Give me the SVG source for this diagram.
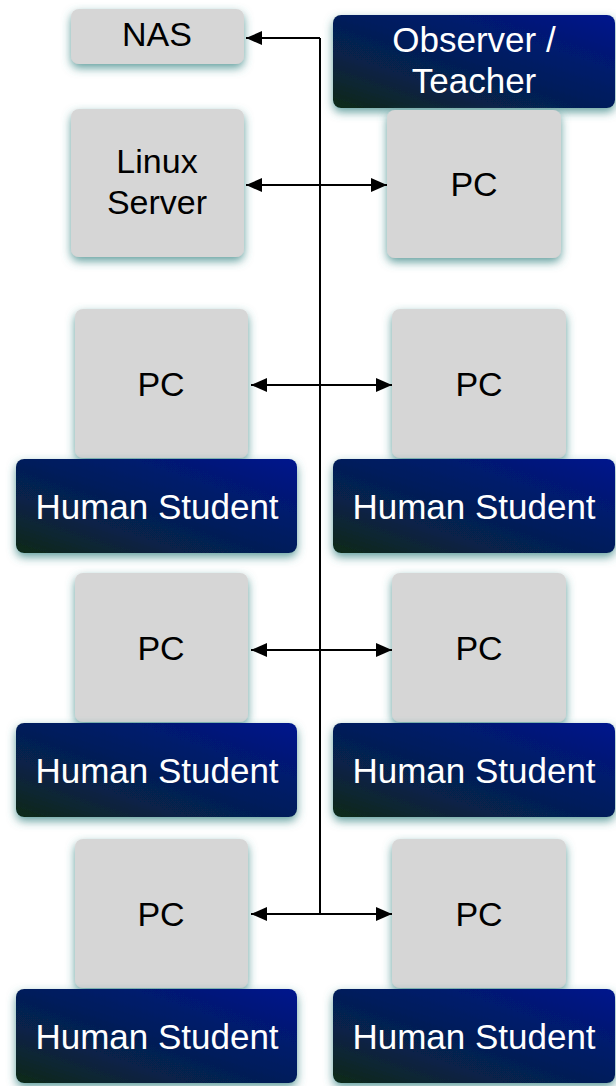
<svg xmlns="http://www.w3.org/2000/svg" width="616" height="1086" viewBox="0 0 616 1086">
  <defs>
    <linearGradient id="navy" x1="0" y1="1" x2="1" y2="0">
      <stop offset="0" stop-color="#0b2a16"/>
      <stop offset="0.3" stop-color="#072248"/>
      <stop offset="0.7" stop-color="#031a6e"/>
      <stop offset="1" stop-color="#00168e"/>
    </linearGradient>
    <filter id="glow" x="-20%" y="-20%" width="140%" height="150%">
      <feDropShadow dx="0" dy="4" stdDeviation="5" flood-color="#3a8886" flood-opacity="0.8"/>
    </filter>
    <marker id="arrow" viewBox="0 0 16 14" refX="16" refY="7" markerWidth="16" markerHeight="14" markerUnits="userSpaceOnUse" orient="auto-start-reverse">
      <path d="M0,0 L16,7 L0,14 Z" fill="#000"/>
    </marker>
  </defs>
  <style>
    .box { fill: #d6d6d6; filter: url(#glow); }
    .person { fill: url(#navy); filter: url(#glow); }
    .lbl { font-family: "Liberation Sans", Arial, sans-serif; font-size: 34px; text-anchor: middle; fill: #000; }
    .lblw { font-family: "Liberation Sans", Arial, sans-serif; font-size: 35px; text-anchor: middle; fill: #fff; }
    .wire { stroke: #000; stroke-width: 2; fill: none; }
  </style>

  <!-- left column -->
  <g id="nas">
    <rect class="box" x="71" y="9" width="173" height="55" rx="8"/>
    <text class="lbl" x="157" y="46">NAS</text>
  </g>
  <g id="linux-server">
    <rect class="box" x="71" y="109" width="173" height="148" rx="8"/>
    <text class="lbl" x="157" y="173">Linux</text>
    <text class="lbl" x="157" y="214">Server</text>
  </g>

  <!-- right column, teacher station -->
  <g id="observer-teacher">
    <rect class="person" x="333" y="15" width="282" height="93" rx="8"/>
    <text class="lblw" x="474" y="52">Observer /</text>
    <text class="lblw" x="474" y="93">Teacher</text>
  </g>
  <g id="pc-teacher">
    <rect class="box" x="387" y="110" width="174" height="148" rx="8"/>
    <text class="lbl" x="474" y="196">PC</text>
  </g>

  <!-- student row 1 -->
  <g id="pc-left-1">
    <rect class="box" x="75" y="309" width="173" height="149" rx="8"/>
    <text class="lbl" x="161" y="396">PC</text>
  </g>
  <g id="student-left-1">
    <rect class="person" x="16" y="459" width="281" height="94" rx="8"/>
    <text class="lblw" x="157" y="519">Human Student</text>
  </g>
  <g id="pc-right-1">
    <rect class="box" x="392" y="309" width="174" height="149" rx="8"/>
    <text class="lbl" x="479" y="396">PC</text>
  </g>
  <g id="student-right-1">
    <rect class="person" x="333" y="459" width="282" height="94" rx="8"/>
    <text class="lblw" x="474" y="519">Human Student</text>
  </g>

  <!-- student row 2 -->
  <g id="pc-left-2">
    <rect class="box" x="75" y="573" width="173" height="149" rx="8"/>
    <text class="lbl" x="161" y="660">PC</text>
  </g>
  <g id="student-left-2">
    <rect class="person" x="16" y="723" width="281" height="94" rx="8"/>
    <text class="lblw" x="157" y="783">Human Student</text>
  </g>
  <g id="pc-right-2">
    <rect class="box" x="392" y="573" width="174" height="149" rx="8"/>
    <text class="lbl" x="479" y="660">PC</text>
  </g>
  <g id="student-right-2">
    <rect class="person" x="333" y="723" width="282" height="94" rx="8"/>
    <text class="lblw" x="474" y="783">Human Student</text>
  </g>

  <!-- student row 3 -->
  <g id="pc-left-3">
    <rect class="box" x="75" y="839" width="173" height="149" rx="8"/>
    <text class="lbl" x="161" y="926">PC</text>
  </g>
  <g id="student-left-3">
    <rect class="person" x="16" y="989" width="281" height="94" rx="8"/>
    <text class="lblw" x="157" y="1049">Human Student</text>
  </g>
  <g id="pc-right-3">
    <rect class="box" x="392" y="839" width="174" height="149" rx="8"/>
    <text class="lbl" x="479" y="926">PC</text>
  </g>
  <g id="student-right-3">
    <rect class="person" x="333" y="989" width="282" height="94" rx="8"/>
    <text class="lblw" x="474" y="1049">Human Student</text>
  </g>

  <!-- network backbone and links -->
  <g id="connectors">
    <path class="wire" d="M320,38 V915"/>
    <path class="wire" d="M320,38 H246" marker-end="url(#arrow)"/>
    <path class="wire" d="M246,185 H387" marker-start="url(#arrow)" marker-end="url(#arrow)"/>
    <path class="wire" d="M251,385 H392" marker-start="url(#arrow)" marker-end="url(#arrow)"/>
    <path class="wire" d="M251,650 H392" marker-start="url(#arrow)" marker-end="url(#arrow)"/>
    <path class="wire" d="M251,914 H392" marker-start="url(#arrow)" marker-end="url(#arrow)"/>
  </g>
</svg>
